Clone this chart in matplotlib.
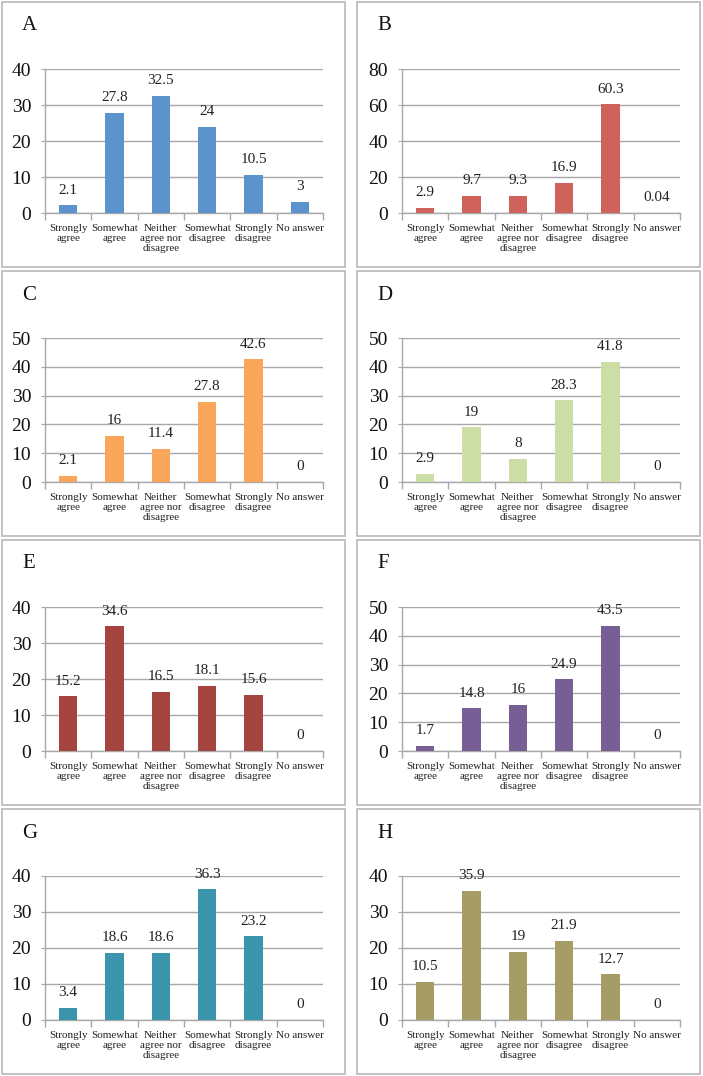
import matplotlib
matplotlib.use("Agg")
import matplotlib.pyplot as plt
from matplotlib.patches import Rectangle

categories = ["Strongly\nagree", "Somewhat\nagree", "Neither\nagree nor\ndisagree",
              "Somewhat\ndisagree", "Strongly\ndisagree", "No answer"]
panel_labels = ["A", "B", "C", "D", "E", "F", "G", "H"]
vals_A = [2.1, 27.8, 32.5, 24, 10.5, 3]
vals_B = [2.9, 9.7, 9.3, 16.9, 60.3, 0.04]
vals_C = [2.1, 16, 11.4, 27.8, 42.6, 0]
vals_D = [2.9, 19, 8, 28.3, 41.8, 0]
vals_E = [15.2, 34.6, 16.5, 18.1, 15.6, 0]
vals_F = [1.7, 14.8, 16, 24.9, 43.5, 0]
vals_G = [3.4, 18.6, 18.6, 36.3, 23.2, 0]
vals_H = [10.5, 35.9, 19, 21.9, 12.7, 0]
label_A = ["2.1", "27.8", "32.5", "24", "10.5", "3"]
label_B = ["2.9", "9.7", "9.3", "16.9", "60.3", "0.04"]
label_C = ["2.1", "16", "11.4", "27.8", "42.6", "0"]
label_D = ["2.9", "19", "8", "28.3", "41.8", "0"]
label_E = ["15.2", "34.6", "16.5", "18.1", "15.6", "0"]
label_F = ["1.7", "14.8", "16", "24.9", "43.5", "0"]
label_G = ["3.4", "18.6", "18.6", "36.3", "23.2", "0"]
label_H = ["10.5", "35.9", "19", "21.9", "12.7", "0"]
ymax = [40, 80, 50, 50, 40, 50, 40, 40]
ystep = [10, 20, 10, 10, 10, 10, 10, 10]
colors = ["#5B93CC", "#D0625C", "#F9A65B", "#CDDDA6", "#A5443F", "#775E94", "#3A95AD", "#A59C66"]

all_vals = [vals_A, vals_B, vals_C, vals_D, vals_E, vals_F, vals_G, vals_H]
all_labels = [label_A, label_B, label_C, label_D, label_E, label_F, label_G, label_H]

W, H = 703, 1076
fig = plt.figure(figsize=(W / 100, H / 100), dpi=100)
fig.patch.set_facecolor("white")
serif = ["Liberation Serif", "DejaVu Serif"]
grid_c = "#A8A8A8"

row_tops = [2, 271, 540, 809]
panel_h = 265
panel_x = [(2, 345), (357, 700)]
axes_x = [(45, 323), (402, 680)]

for i in range(8):
    r, c = divmod(i, 2)
    top = row_tops[r]
    px0, px1 = panel_x[c]
    fig.patches.append(Rectangle((px0 / W, 1 - (top + panel_h) / H), (px1 - px0) / W, panel_h / H,
                                 transform=fig.transFigure, fill=False, edgecolor="#BDBDBD",
                                 linewidth=1.3, zorder=0))
    fig.text((px0 + 20) / W, 1 - (top + 24) / H, panel_labels[i], fontsize=15,
             family=serif, va="center", ha="left", color="#111111")
    ax0, ax1 = axes_x[c]
    ay_top = top + 67
    ay_bot = top + 211
    ax = fig.add_axes([ax0 / W, 1 - ay_bot / H, (ax1 - ax0) / W, (ay_bot - ay_top) / H])
    x = list(range(6))
    ax.bar(x, all_vals[i], width=0.4, color=colors[i], edgecolor="none", zorder=3)
    ax.set_xlim(-0.5, 5.5)
    ax.set_ylim(0, ymax[i])
    ticks = list(range(0, ymax[i] + 1, ystep[i]))
    ax.set_yticks(ticks)
    ax.set_yticklabels([str(t) for t in ticks], family=serif, fontsize=14, color="#111111")
    ax.yaxis.grid(True, color=grid_c, linewidth=1.0, zorder=0)
    ax.set_axisbelow(True)
    for s in ["top", "right"]:
        ax.spines[s].set_visible(False)
    for s in ["left", "bottom"]:
        ax.spines[s].set_color(grid_c)
        ax.spines[s].set_linewidth(1.0)
    ax.tick_params(axis="y", length=3, color=grid_c, pad=7)
    ax.set_xticks(x)
    ax.set_xticklabels(categories, family=serif, fontsize=8.0, color="#222222", linespacing=1.1)
    ax.tick_params(axis="x", which="major", length=0, pad=8)
    ax.set_xticks([k - 0.5 for k in range(7)], minor=True)
    ax.tick_params(axis="x", which="minor", length=5, color=grid_c, width=1.0)
    for xi, v, lab in zip(x, all_vals[i], all_labels[i]):
        ax.annotate(lab, (xi, v), xytext=(0, 11), textcoords="offset points",
                    ha="center", va="center", family=serif, fontsize=11, color="#222222")
    ax.patch.set_alpha(0)

fig.savefig("out.png", dpi=100)
